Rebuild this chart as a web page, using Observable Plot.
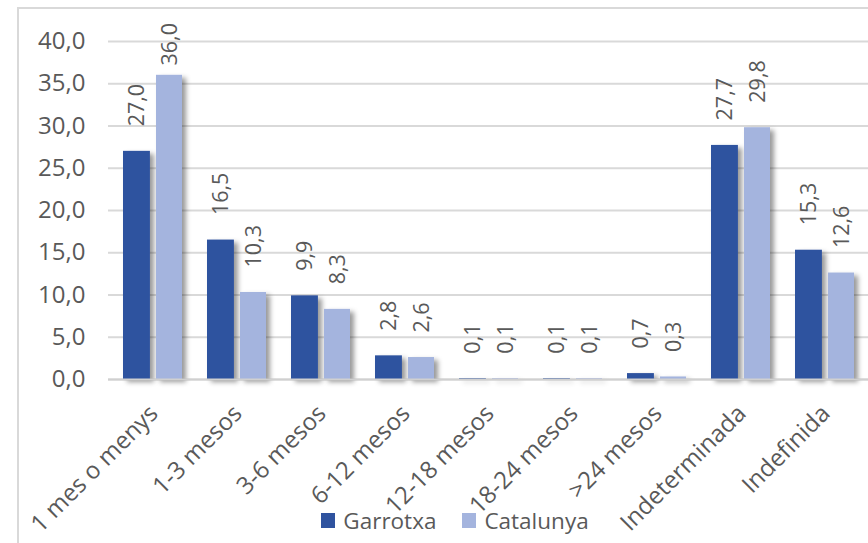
<!DOCTYPE html>
<html>
<head>
<meta charset="utf-8">
<script src="https://cdn.jsdelivr.net/npm/d3@7"></script>
<script src="https://cdn.jsdelivr.net/npm/@observablehq/plot@0.6"></script>
<style>
  html, body { margin: 0; padding: 0; background: #fff; }
  #wrap { position: relative; width: 868px; height: 543px; overflow: hidden; font-family: "Open Sans", sans-serif; }
  #frame { position: absolute; left: 17px; top: 7px; width: 900px; height: 600px; border-left: 2px solid #d9d9d9; border-top: 2px solid #d9d9d9; }
  #legend { position: absolute; left: 0; width: 910px; top: 505px; display: flex; justify-content: center; gap: 26px; font-size: 22.5px; color: #595959; }
  #legend span.item { display: inline-flex; align-items: center; gap: 8px; }
  #legend span.sw { display: inline-block; width: 14px; height: 15px; }
</style>
</head>
<body>
<div id="wrap">
  <div id="frame"></div>
  <div id="chart"></div>
  <div id="legend"></div>
</div>
<script>
const categories = ["1 mes o menys", "1-3 mesos", "3-6 mesos", "6-12 mesos", "12-18 mesos", "18-24 mesos", ">24 mesos", "Indeterminada", "Indefinida"];
const series = ["Garrotxa", "Catalunya"];
const garrotxa = [27.0, 16.5, 9.9, 2.8, 0.1, 0.1, 0.7, 27.7, 15.3];
const catalunya = [36.0, 10.3, 8.3, 2.6, 0.1, 0.1, 0.3, 29.8, 12.6];
const yTicks = [0, 5, 10, 15, 20, 25, 30, 35, 40];
const colors = ["#2f539f", "#a4b4de"];

const rowsG = categories.map((c, i) => ({cat: c, serie: series[0], value: garrotxa[i]}));
const rowsC = categories.map((c, i) => ({cat: c, serie: series[1], value: catalunya[i]}));

// Excel keeps data labels inside the plot area
const labelCap = 34.2;
const fmt = d => d.toFixed(1).replace(".", ",");

const barW = 27, gap = 6;

const plot = Plot.plot({
  width: 868,
  height: 543,
  marginLeft: 108,
  marginRight: 0,
  marginTop: 41,
  marginBottom: 164,
  style: {fontFamily: "Open Sans, sans-serif", color: "#595959", background: "transparent"},
  x: {domain: categories, paddingInner: 0.3, paddingOuter: 0.15},
  y: {domain: [0, 40]},
  marks: [
    Plot.gridY(yTicks, {stroke: "#d9d9d9", strokeOpacity: 1, strokeWidth: 2}),
    Plot.barY(rowsG, {x: "cat", y: "value", fill: colors[0], insetRight: 59.1 - barW}),
    Plot.barY(rowsC, {x: "cat", y: "value", fill: colors[1], insetLeft: barW + gap}),
    Plot.ruleY([0], {stroke: "#d0d0d0", strokeWidth: 2}),
    Plot.text(rowsG, {x: "cat", y: d => Math.min(d.value, labelCap), text: d => fmt(d.value), rotate: -90, textAnchor: "start", dx: -15.5, dy: -25, fontSize: 21.5, fill: "#595959"}),
    Plot.text(rowsC, {x: "cat", y: d => Math.min(d.value, labelCap), text: d => fmt(d.value), rotate: -90, textAnchor: "start", dx: 17, dy: -25, fontSize: 21.5, fill: "#595959"}),
    Plot.axisY(yTicks, {tickSize: 0, tickPadding: 23, tickFormat: fmt, fontSize: 24, fill: "#595959", label: null}),
    Plot.axisX({tickSize: 0, tickRotate: -45, tickPadding: 12, dy: 18, dx: 1, fontSize: 24, fill: "#595959", label: null})
  ]
});

// drop shadows on bars, like the Excel original
const svg = d3.select(plot);
const defs = svg.insert("defs", ":first-child");
defs.append("filter").attr("id", "shadow").attr("x", "-20%").attr("y", "-10%").attr("width", "160%").attr("height", "130%")
  .append("feDropShadow").attr("dx", 4).attr("dy", 3).attr("stdDeviation", 2.5).attr("flood-color", "#000").attr("flood-opacity", 0.4);
svg.selectAll('g[aria-label="bar"]').attr("filter", "url(#shadow)");

document.getElementById("chart").append(plot);

const legend = d3.select("#legend");
series.forEach((s, i) => {
  const item = legend.append("span").attr("class", "item");
  item.append("span").attr("class", "sw").style("background", colors[i]);
  item.append("span").text(s);
});
</script>
</body>
</html>
